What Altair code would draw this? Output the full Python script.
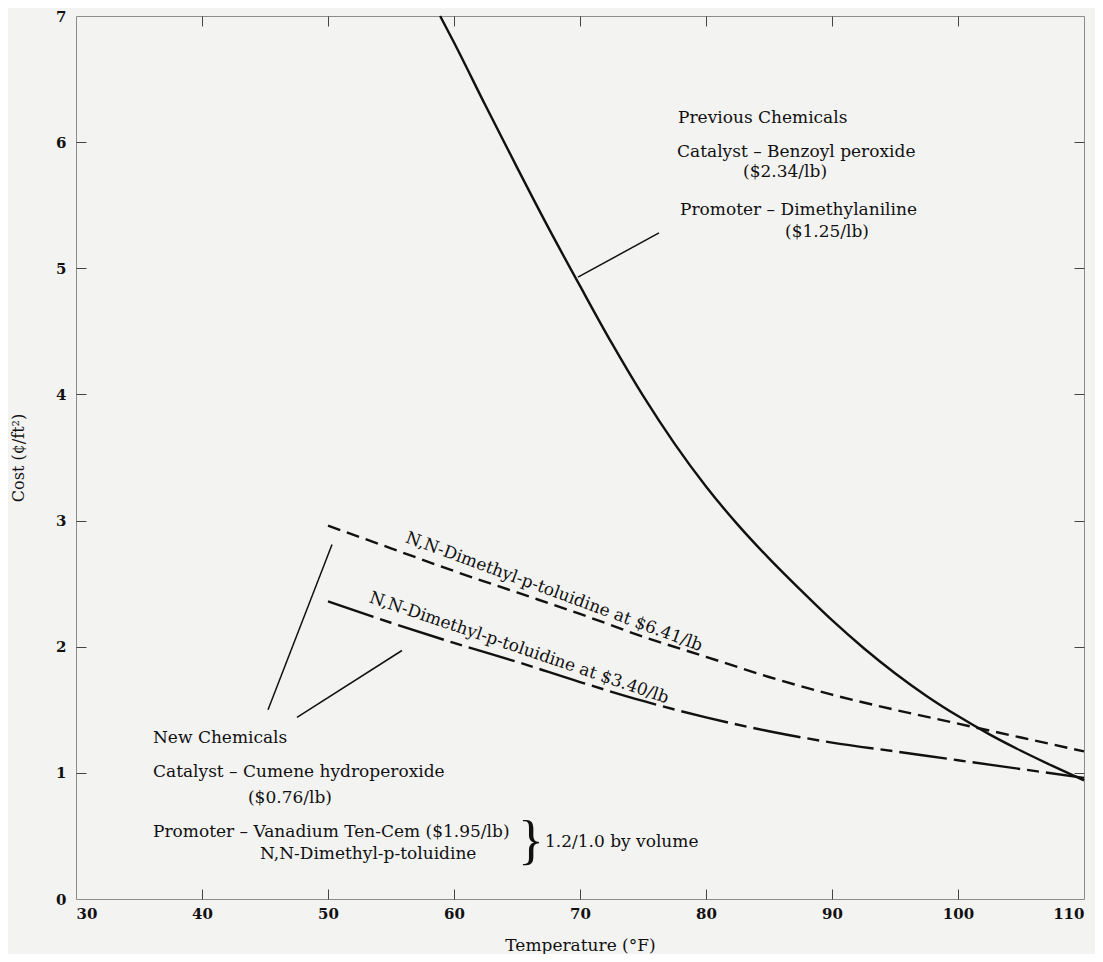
import altair as alt
import pandas as pd

FONT = "DejaVu Serif"
INK = "#111111"
BG = "#f3f3f1"

# ---------------- data ----------------
# Previous chemicals: benzoyl peroxide + dimethylaniline
prev_temp = [58.9, 60, 62.5, 65, 67.5, 70, 72.5, 75, 77.5, 80, 82.5, 85, 87.5,
             90, 92.5, 95, 97.5, 100, 102.5, 105, 107.5, 110]
prev_cost = [7.00, 6.79, 6.29, 5.80, 5.32, 4.86, 4.41, 3.99, 3.61, 3.27, 2.97, 2.70, 2.45,
             2.21, 1.99, 1.79, 1.61, 1.45, 1.305, 1.175, 1.055, 0.94]

# New chemicals, N,N-dimethyl-p-toluidine at $6.41/lb
hi_temp = [50, 55, 60, 65, 70, 75, 80, 85, 90, 95, 100, 105, 110]
hi_cost = [2.96, 2.78, 2.60, 2.43, 2.26, 2.08, 1.92, 1.76, 1.62, 1.50, 1.39, 1.28, 1.17]

# New chemicals, N,N-dimethyl-p-toluidine at $3.40/lb
lo_temp = [50, 55, 60, 65, 70, 75, 80, 85, 90, 95, 100, 105, 110]
lo_cost = [2.36, 2.19, 2.03, 1.88, 1.72, 1.57, 1.44, 1.33, 1.24, 1.17, 1.10, 1.03, 0.96]

x_ticks = [30, 40, 50, 60, 70, 80, 90, 100, 110]
y_ticks = [0, 1, 2, 3, 4, 5, 6, 7]
x_inner_ticks = [40, 50, 60, 70, 80, 90, 100]
y_inner_ticks = [1, 2, 3, 4, 5, 6]

# horizontal annotation text
note_text = [
    "Previous Chemicals",
    "Catalyst \u2013 Benzoyl peroxide",
    "($2.34/lb)",
    "Promoter \u2013 Dimethylaniline",
    "($1.25/lb)",
    "New Chemicals",
    "Catalyst \u2013 Cumene hydroperoxide",
    "($0.76/lb)",
    "Promoter \u2013 Vanadium Ten-Cem ($1.95/lb)",
    "N,N-Dimethyl-p-toluidine",
    "1.2/1.0 by volume",
]
note_temp = [77.78, 77.70, 82.94, 77.94, 86.27, 36.11, 36.11, 43.65, 36.11, 44.60, 67.22]
note_cost = [6.19, 5.92, 5.76, 5.46, 5.29, 1.277, 1.007, 0.80, 0.531, 0.357, 0.452]

# curve labels (rotated along the curves)
curve_label_text = ["N,N-Dimethyl-p-toluidine at $6.41/lb",
                    "N,N-Dimethyl-p-toluidine at $3.40/lb"]
curve_label_temp = [67.94, 65.16]
curve_label_cost = [2.435, 1.99]
curve_label_angle = [20.3, 18.8]

# brace grouping the two promoters
brace_text = ["}"]
brace_temp = [66.1]
brace_cost = [0.455]

# leader lines
leader_t1 = [69.84, 50.32, 55.87]
leader_c1 = [4.93, 2.81, 1.97]
leader_t2 = [76.27, 45.24, 47.54]
leader_c2 = [5.28, 1.50, 1.44]

# ---------------- chart ----------------
W, H = 1008, 883

xs = alt.Scale(domain=[30, 110], nice=False, zero=False)
ys = alt.Scale(domain=[0, 7], nice=False, zero=False)

main_x_axis = alt.Axis(
    orient="bottom", values=x_ticks, ticks=False, domain=False, grid=False,
    labelFont=FONT, labelFontSize=15, labelFontWeight="bold", labelColor=INK,
    labelPadding=7, labelAngle=0,
    titleFont=FONT, titleFontSize=17, titleFontWeight="normal", titleColor=INK,
    titleX=W / 2, titleY=46, titleAlign="center", titleBaseline="middle",
)
main_y_axis = alt.Axis(
    orient="left", values=y_ticks, ticks=False, domain=False, grid=False,
    labelFont=FONT, labelFontSize=15, labelFontWeight="bold", labelColor=INK,
    labelPadding=10,
    titleFont=FONT, titleFontSize=16, titleFontWeight="normal", titleColor=INK,
    titleX=-58, titleY=H / 2, titleAngle=270, titleAlign="center", titleBaseline="middle",
)

def tick_axis(orient, off, vals):
    return alt.Axis(orient=orient, offset=off, values=vals, labels=False, ticks=True,
                    tickSize=10, tickColor="#444444", tickWidth=1, domain=False, grid=False)

prev_df = pd.DataFrame({"T": prev_temp, "C": prev_cost})
hi_df = pd.DataFrame({"T": hi_temp, "C": hi_cost})
lo_df = pd.DataFrame({"T": lo_temp, "C": lo_cost})

prev_line = alt.Chart(prev_df).mark_line(
    color=INK, strokeWidth=2.4, interpolate="monotone"
).encode(
    x=alt.X("T:Q", scale=xs, axis=main_x_axis, title="Temperature (\u00b0F)"),
    y=alt.Y("C:Q", scale=ys, axis=main_y_axis, title="Cost (\u00a2/ft\u00b2)"),
)

hi_line = alt.Chart(hi_df).mark_line(
    color=INK, strokeWidth=2.4, strokeDash=[13, 7], interpolate="monotone"
).encode(
    x=alt.X("T:Q", scale=xs, axis=tick_axis("top", -H, x_inner_ticks), title=None),
    y=alt.Y("C:Q", scale=ys, axis=tick_axis("right", -W, y_inner_ticks), title=None),
)

lo_line = alt.Chart(lo_df).mark_line(
    color=INK, strokeWidth=2.4, strokeDash=[48, 7, 12, 7], interpolate="monotone"
).encode(
    x=alt.X("T:Q", scale=xs, axis=tick_axis("bottom", -H, x_inner_ticks), title=None),
    y=alt.Y("C:Q", scale=ys, axis=tick_axis("left", -W, y_inner_ticks), title=None),
)

leader_df = pd.DataFrame({"t1": leader_t1, "c1": leader_c1, "t2": leader_t2, "c2": leader_c2})
leaders = alt.Chart(leader_df).mark_rule(color=INK, strokeWidth=1.5).encode(
    x=alt.X("t1:Q", scale=xs, axis=None),
    y=alt.Y("c1:Q", scale=ys, axis=None),
    x2="t2:Q",
    y2="c2:Q",
)

notes_df = pd.DataFrame({"label": note_text, "T": note_temp, "C": note_cost})
notes = alt.Chart(notes_df).mark_text(
    align="left", baseline="middle", font=FONT, fontSize=17, color=INK
).encode(
    x=alt.X("T:Q", scale=xs, axis=None),
    y=alt.Y("C:Q", scale=ys, axis=None),
    text="label:N",
)

curve_label_layers = []
for txt, t, c, a in zip(curve_label_text, curve_label_temp, curve_label_cost, curve_label_angle):
    d = pd.DataFrame({"label": [txt], "T": [t], "C": [c]})
    curve_label_layers.append(
        alt.Chart(d).mark_text(
            align="center", baseline="middle", font=FONT, fontSize=17, color=INK, angle=a
        ).encode(
            x=alt.X("T:Q", scale=xs, axis=None),
            y=alt.Y("C:Q", scale=ys, axis=None),
            text="label:N",
        )
    )

brace_df = pd.DataFrame({"label": brace_text, "T": brace_temp, "C": brace_cost})
brace = alt.Chart(brace_df).mark_text(
    align="center", baseline="middle", font="Liberation Serif", fontSize=54, color=INK
).encode(
    x=alt.X("T:Q", scale=xs, axis=None),
    y=alt.Y("C:Q", scale=ys, axis=None),
    text="label:N",
)

chart = alt.layer(
    prev_line, hi_line, lo_line, leaders, notes, brace, *curve_label_layers
).resolve_axis(
    x="independent", y="independent"
).properties(
    width=W, height=H,
    autosize=alt.AutoSizeParams(type="none"),
    padding={"left": 68, "top": 8, "right": 11, "bottom": 55},
    background=BG,
).configure_view(
    stroke="#8c8c8c", strokeWidth=1
)

chart.save("out.html", embed_options={"renderer": "svg", "actions": False})
